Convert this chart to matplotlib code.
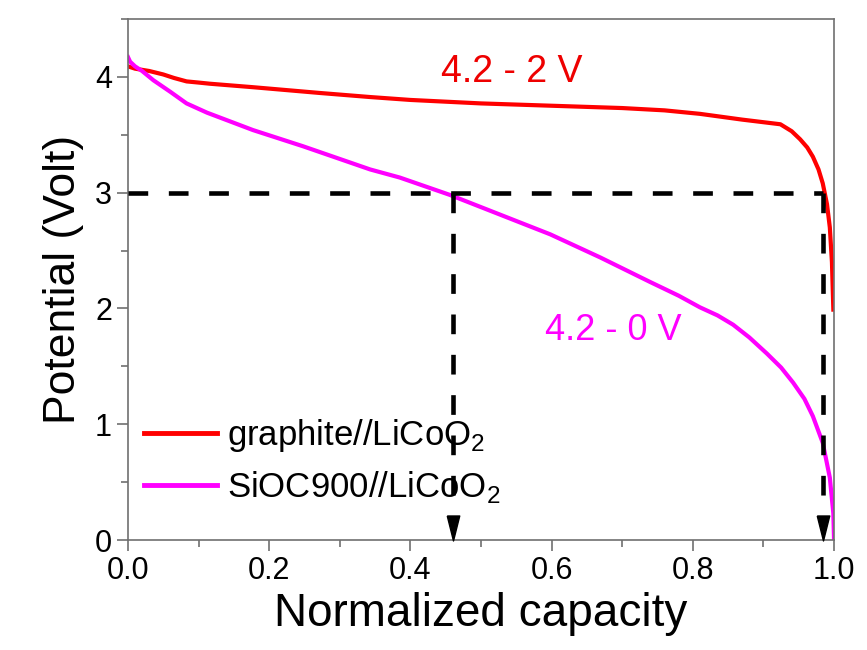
import matplotlib
matplotlib.use("Agg")
import matplotlib.pyplot as plt
from matplotlib.ticker import MultipleLocator

plt.rcParams["font.family"] = ["Liberation Sans", "DejaVu Sans"]
plt.rcParams["mathtext.fontset"] = "custom"
plt.rcParams["mathtext.rm"] = "Liberation Sans"

# graphite//LiCoO2 discharge curve (4.2 - 2 V)
graphite_cap = [0.0, 0.01, 0.03, 0.05, 0.065, 0.083, 0.10, 0.116, 0.177, 0.272,
                0.343, 0.40, 0.45, 0.50, 0.60, 0.70, 0.76, 0.81, 0.87, 0.924,
                0.94, 0.952, 0.962, 0.970, 0.978, 0.984, 0.99, 0.994, 0.997, 0.999]
graphite_v = [4.09, 4.07, 4.05, 4.02, 3.99, 3.96, 3.95, 3.94, 3.91, 3.86,
              3.825, 3.80, 3.785, 3.77, 3.75, 3.73, 3.71, 3.68, 3.63, 3.59,
              3.53, 3.46, 3.39, 3.31, 3.20, 3.08, 2.90, 2.70, 2.40, 1.99]

# SiOC900//LiCoO2 discharge curve (4.2 - 0 V)
sioc_cap = [0.0, 0.003, 0.01, 0.02, 0.036, 0.06, 0.083, 0.112, 0.177, 0.248,
            0.343, 0.385, 0.456, 0.527, 0.598, 0.669, 0.739, 0.78, 0.81, 0.835,
            0.857, 0.88, 0.905, 0.925, 0.942, 0.958, 0.970, 0.984, 0.994,
            0.999, 1.0]
sioc_v = [4.17, 4.13, 4.09, 4.05, 3.97, 3.87, 3.77, 3.69, 3.54, 3.40,
          3.20, 3.13, 2.98, 2.81, 2.64, 2.44, 2.23, 2.11, 2.01, 1.94,
          1.86, 1.75, 1.61, 1.49, 1.36, 1.22, 1.07, 0.84, 0.54,
          0.23, 0.0]

cutoff_v = 3.0
cutoff_caps = [0.46, 0.985]

fig = plt.figure(figsize=(8.67, 6.5), dpi=100)
ax = fig.add_axes([0.1476, 0.169, 0.8144, 0.802])

ax.plot(graphite_cap, graphite_v, color="#ff0000", lw=3, label=r"graphite//LiCoO$_2$")
ax.plot(sioc_cap, sioc_v, color="#ff00ff", lw=3, label=r"SiOC900//LiCoO$_2$")

# dashed guides at 3 V with arrowheads on the capacity axis
dash = (0, (4.3, 4.5))
ax.plot([0, cutoff_caps[1]], [cutoff_v, cutoff_v], color="black", lw=3.3,
        ls=dash, zorder=3)
arrow = [(-0.5, 1.0), (0.5, 1.0), (0.0, -1.0), (-0.5, 1.0)]
for c in cutoff_caps:
    ax.plot([c, c], [cutoff_v, 0.25], color="black", lw=3.3, ls=dash, zorder=3)
    ax.plot([c], [0.108], marker=arrow, color="black", markersize=18, zorder=4,
            clip_on=False)

ax.text(0.544, 4.04, "4.2 - 2 V", color="#ee0000", fontsize=27,
        ha="center", va="center")
ax.text(0.688, 1.81, "4.2 - 0 V", color="#ff00ff", fontsize=26,
        ha="center", va="center")

ax.set_xlim(0, 1.0)
ax.set_ylim(0, 4.5)
ax.set_xticks([0, 0.2, 0.4, 0.6, 0.8, 1.0])
ax.set_xticklabels(["0.0", "0.2", "0.4", "0.6", "0.8", "1.0"])
ax.xaxis.set_minor_locator(MultipleLocator(0.1))
ax.yaxis.set_major_locator(MultipleLocator(1))
ax.yaxis.set_minor_locator(MultipleLocator(0.5))
ax.tick_params(which="both", direction="out", top=False, right=False,
               color="#707070", width=1.2)
ax.tick_params(which="major", length=8, labelsize=22)
ax.tick_params(which="minor", length=5)
for s in ax.spines.values():
    s.set_color("#707070")
    s.set_linewidth(1.2)

ax.set_xlabel("Normalized capacity", fontsize=33, labelpad=4)
ax.set_ylabel("Potential (Volt)", fontsize=32, labelpad=8)

leg = ax.legend(loc="lower left", bbox_to_anchor=(-0.012, 0.02), frameon=False,
                fontsize=25, handlelength=2.1, handletextpad=0.3,
                labelspacing=0.45, borderaxespad=0.3)
for line in leg.get_lines():
    line.set_linewidth(3.5)

fig.savefig("out.png", dpi=100)
